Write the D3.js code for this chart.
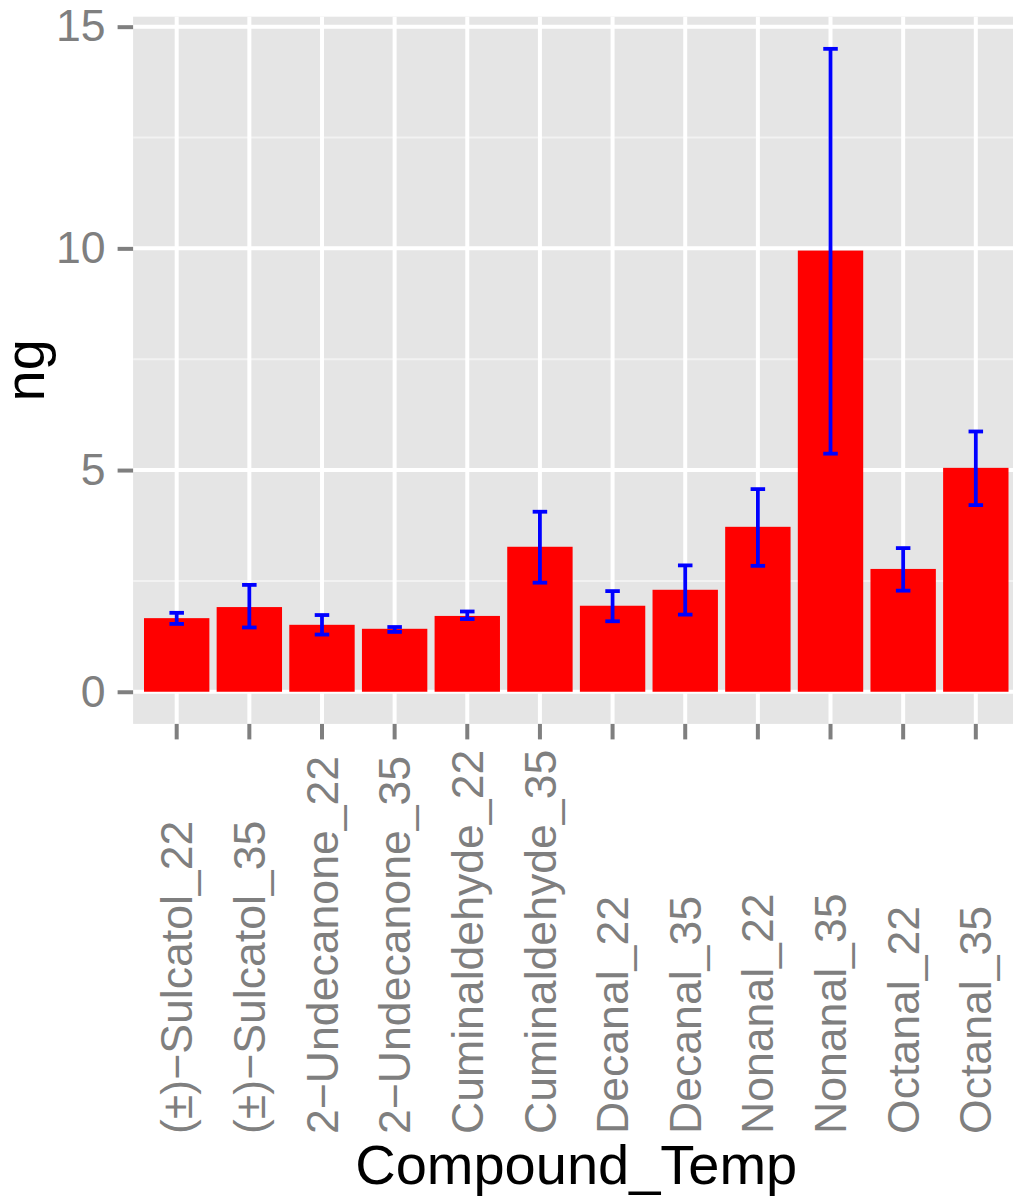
<!DOCTYPE html>
<html>
<head>
<meta charset="utf-8">
<script src="https://cdn.jsdelivr.net/npm/d3@7"></script>
<style>
  html, body { margin: 0; padding: 0; background: #ffffff; }
  svg { display: block; font-family: "Liberation Sans", Arial, Helvetica, sans-serif; }
</style>
</head>
<body>
<div id="chart"></div>
<script>
// ---- data ----
const categories = [
  "(±)−Sulcatol_22", "(±)−Sulcatol_35", "2−Undecanone_22", "2−Undecanone_35",
  "Cuminaldehyde_22", "Cuminaldehyde_35", "Decanal_22", "Decanal_35",
  "Nonanal_22", "Nonanal_35", "Octanal_22", "Octanal_35"
];
const means = [1.66, 1.91, 1.51, 1.42, 1.71, 3.27, 1.94, 2.30, 3.72, 9.95, 2.77, 5.05];
const lower = [1.53, 1.45, 1.29, 1.35, 1.64, 2.46, 1.59, 1.74, 2.84, 5.37, 2.28, 4.21];
const upper = [1.78, 2.41, 1.73, 1.46, 1.81, 4.06, 2.27, 2.85, 4.57, 14.50, 3.24, 5.87];
const yTicks = [0, 5, 10, 15];
const yMinorTicks = [2.5, 7.5, 12.5];
const xTitle = "Compound_Temp";
const yTitle = "ng";

// ---- layout ----
const W = 1013, H = 1203;
const panel = { left: 133.1, right: 1019.4, top: 16.7, bottom: 723.9 };

const svg = d3.select("#chart").append("svg")
  .attr("width", W).attr("height", H);

const x = d3.scaleBand()
  .domain(categories)
  .range([panel.left, panel.right])
  .paddingInner(0.1)
  .paddingOuter(0.15);

const yMax = d3.max(upper);
const yExp = (yMax - 0) * 0.05;
const y = d3.scaleLinear()
  .domain([0 - yExp, yMax + yExp])
  .range([panel.bottom, panel.top]);

const step = x.step();
const cx = d => x(d) + x.bandwidth() / 2;

// panel background
svg.append("rect")
  .attr("x", panel.left).attr("y", panel.top)
  .attr("width", panel.right - panel.left)
  .attr("height", panel.bottom - panel.top)
  .attr("fill", "#E5E5E5");

// minor grid
svg.append("g").selectAll("line").data(yMinorTicks).join("line")
  .attr("x1", panel.left).attr("x2", panel.right)
  .attr("y1", d => y(d)).attr("y2", d => y(d))
  .attr("stroke", "#F2F2F2").attr("stroke-width", 2);

// major grid
svg.append("g").selectAll("line").data(yTicks).join("line")
  .attr("x1", panel.left).attr("x2", panel.right)
  .attr("y1", d => y(d)).attr("y2", d => y(d))
  .attr("stroke", "#ffffff").attr("stroke-width", 4);
svg.append("g").selectAll("line").data(categories).join("line")
  .attr("x1", d => cx(d)).attr("x2", d => cx(d))
  .attr("y1", panel.top).attr("y2", panel.bottom)
  .attr("stroke", "#ffffff").attr("stroke-width", 4);

// bars
svg.append("g").selectAll("rect").data(categories).join("rect")
  .attr("x", d => x(d))
  .attr("width", x.bandwidth())
  .attr("y", (d, i) => y(means[i]))
  .attr("height", (d, i) => y(0) - y(means[i]))
  .attr("fill", "#FF0000");

// error bars
const capW = step * 0.2;
const eb = svg.append("g").attr("stroke", "#0000FF").attr("stroke-width", 3.8).attr("fill", "none");
categories.forEach((c, i) => {
  const xc = cx(c);
  eb.append("line").attr("x1", xc).attr("x2", xc).attr("y1", y(lower[i])).attr("y2", y(upper[i]));
  eb.append("line").attr("x1", xc - capW / 2).attr("x2", xc + capW / 2).attr("y1", y(upper[i])).attr("y2", y(upper[i]));
  eb.append("line").attr("x1", xc - capW / 2).attr("x2", xc + capW / 2).attr("y1", y(lower[i])).attr("y2", y(lower[i]));
});

// y axis
const yAxis = d3.axisLeft(y).tickValues(yTicks).tickSize(15.5).tickPadding(12).tickFormat(d3.format("d"));
const gy = svg.append("g").attr("transform", `translate(${panel.left},0)`).call(yAxis);
gy.select(".domain").remove();
gy.selectAll(".tick line").attr("stroke", "#7F7F7F").attr("stroke-width", 4);
gy.selectAll(".tick text").attr("fill", "#7F7F7F").attr("font-size", 44.6)
  .attr("font-family", "Liberation Sans, Arial, sans-serif");

// x axis
const xAxis = d3.axisBottom(x).tickSize(15.5).tickPadding(0);
const gx = svg.append("g").attr("transform", `translate(0,${panel.bottom})`).call(xAxis);
gx.select(".domain").remove();
gx.selectAll(".tick line").attr("stroke", "#7F7F7F").attr("stroke-width", 4);
gx.selectAll(".tick text")
  .attr("fill", "#7F7F7F").attr("font-size", 44.6)
  .attr("font-family", "Liberation Sans, Arial, sans-serif")
  .attr("text-anchor", "start")
  .attr("transform", `translate(0,${1134 - panel.bottom}) rotate(-90)`)
  .attr("x", 0).attr("y", 0).attr("dy", "0.35em");

// axis titles
svg.append("text")
  .attr("x", (panel.left + panel.right) / 2)
  .attr("y", 1184)
  .attr("text-anchor", "middle")
  .attr("font-size", 56)
  .attr("fill", "#000000")
  .text(xTitle);

svg.append("text")
  .attr("transform", `translate(44,${(panel.top + panel.bottom) / 2}) rotate(-90)`)
  .attr("text-anchor", "middle")
  .attr("font-size", 56)
  .attr("fill", "#000000")
  .text(yTitle);
</script>
</body>
</html>
